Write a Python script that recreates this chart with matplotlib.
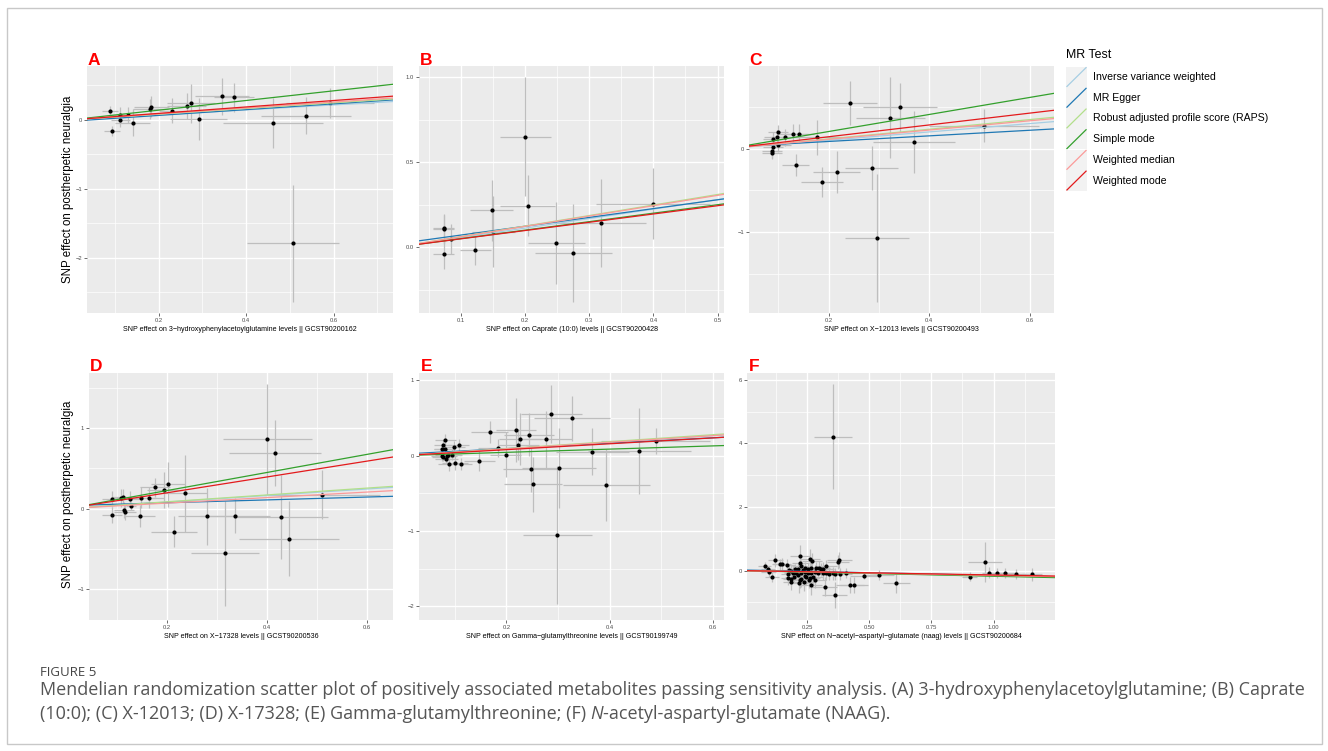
import matplotlib
matplotlib.use("Agg")
import matplotlib.pyplot as plt
from matplotlib.patches import Rectangle

plt.rcParams["font.family"] = ["Liberation Sans", "DejaVu Sans"]

# ---- data ---------------------------------------------------------------
methods = ["Inverse variance weighted", "MR Egger", "Robust adjusted profile score (RAPS)",
           "Simple mode", "Weighted median", "Weighted mode"]
method_colors = ["#a6cee3", "#1f78b4", "#b2df8a", "#33a02c", "#fb9a99", "#e31a1c"]

# Panel A: 3-hydroxyphenylacetoylglutamine
a_x = [0.088, 0.094, 0.111, 0.1125, 0.129, 0.141, 0.181, 0.1825, 0.231, 0.264, 0.273, 0.292,
       0.345, 0.373, 0.462, 0.536, 0.592, 0.508]
a_y = [0.13, -0.165, 0.068, -0.005, 0.068, -0.04, 0.155, 0.19, 0.13, 0.198, 0.24, 0.01,
       0.343, 0.33, -0.043, 0.058, 0.24, -1.79]
a_xe = [0.018, 0.018, 0.02, 0.022, 0.025, 0.04, 0.04, 0.04, 0.03, 0.045, 0.055, 0.065,
        0.062, 0.046, 0.115, 0.103, 0.1, 0.105]
a_ye = [0.07, 0.07, 0.12, 0.1, 0.12, 0.2, 0.15, 0.15, 0.18, 0.19, 0.28, 0.3,
        0.27, 0.21, 0.36, 0.27, 0.22, 0.85]
a_slope = [0.36, 0.42, 0.41, 0.70, 0.43, 0.466]
a_icpt = [0, -0.02, 0, 0, 0, 0]

# Panel B: Caprate (10:0)
b_x = [0.0735, 0.0735, 0.0735, 0.0844, 0.1229, 0.148, 0.151, 0.2008, 0.2044, 0.249, 0.275,
       0.319, 0.399]
b_y = [0.112, 0.106, -0.043, 0.047, -0.018, 0.218, 0.092, 0.651, 0.245, 0.024, -0.035,
       0.141, 0.255]
b_xe = [0.016, 0.016, 0.016, 0.005, 0.024, 0.033, 0.033, 0.039, 0.043, 0.044, 0.06, 0.069, 0.089]
b_ye = [0.086, 0.086, 0.086, 0.09, 0.087, 0.18, 0.21, 0.35, 0.18, 0.24, 0.29, 0.26, 0.21]
b_slope = [0.56, 0.52, 0.62, 0.50, 0.61, 0.488]
b_icpt = [0, 0.019, 0, 0, 0, 0]

# Panel C: X-12013
c_x = [0.0879, 0.0879, 0.0886, 0.0899, 0.0965, 0.0985, 0.0998, 0.1131, 0.1297, 0.1416, 0.1344,
       0.1774, 0.1867, 0.216, 0.2425, 0.2856, 0.2955, 0.3227, 0.342, 0.370, 0.509]
c_y = [-0.048, -0.028, 0.016, 0.116, 0.135, 0.203, 0.044, 0.135, 0.179, 0.179, -0.195,
       0.135, -0.402, -0.279, 0.546, -0.235, -1.072, 0.371, 0.494, 0.080, 0.275]
c_xe = [0.02, 0.02, 0.02, 0.02, 0.025, 0.02, 0.025, 0.03, 0.03, 0.03, 0.027,
        0.05, 0.042, 0.047, 0.053, 0.053, 0.064, 0.069, 0.073, 0.082, 0.11]
c_ye = [0.08, 0.08, 0.08, 0.08, 0.09, 0.08, 0.09, 0.1, 0.11, 0.11, 0.135,
        0.21, 0.18, 0.25, 0.265, 0.26, 0.77, 0.48, 0.295, 0.37, 0.195]
c_slope = [0.498, 0.335, 0.578, 1.02, 0.554, 0.707]
c_icpt = [0, 0.018, 0, 0, 0, 0]

# Panel D: X-17328
d_x = [0.0898, 0.0898, 0.1085, 0.1118, 0.1138, 0.1166, 0.1266, 0.1286, 0.1466, 0.1486, 0.1633,
       0.176, 0.1947, 0.202, 0.236, 0.214, 0.2808, 0.3162, 0.3362, 0.401, 0.4157, 0.4284,
       0.445, 0.511]
d_y = [0.115, -0.074, 0.136, 0.144, -0.02, -0.041, 0.115, 0.037, -0.091, 0.132, 0.136,
       0.264, 0.231, 0.301, 0.19, -0.285, -0.095, -0.553, -0.087, 0.858, 0.689, -0.107,
       -0.371, 0.173]
d_xe = [0.02, 0.02, 0.02, 0.022, 0.02, 0.022, 0.025, 0.01, 0.03, 0.03, 0.03,
        0.03, 0.035, 0.035, 0.045, 0.047, 0.059, 0.069, 0.07, 0.089, 0.092, 0.095, 0.1, 0.116]
d_ye = [0.1, 0.1, 0.11, 0.1, 0.1, 0.1, 0.1, 0.05, 0.14, 0.13, 0.13,
        0.12, 0.22, 0.28, 0.48, 0.19, 0.35, 0.65, 0.22, 0.69, 0.41, 0.52, 0.46, 0.3]
d_slope = [0.404, 0.177, 0.423, 1.118, 0.341, 0.979]
d_icpt = [0, 0.037, 0, 0, 0, 0]

# Panel E: Gamma-glutamylthreonine
e_x = [0.0819, 0.0774, 0.0807, 0.0755, 0.0987, 0.1078, 0.0761, 0.0748, 0.0774, 0.0851, 0.087,
       0.0948, 0.0839, 0.0884, 0.1013, 0.1123, 0.148, 0.1677, 0.1845, 0.199, 0.2187, 0.2232,
       0.2265, 0.2432, 0.2477, 0.251, 0.2768, 0.287, 0.302, 0.2987, 0.327, 0.3665, 0.3935,
       0.4574, 0.489]
e_y = [0.203, 0.137, 0.093, 0.093, 0.115, 0.137, 0.04, -0.009, -0.018, -0.009, 0.004,
       0.013, -0.04, -0.115, -0.093, -0.115, -0.071, 0.313, 0.106, 0.009, 0.34, 0.146,
       0.221, 0.278, -0.181, -0.384, 0.217, 0.552, -0.163, -1.056, 0.495, 0.053, -0.389,
       0.066, 0.194]
e_xe = [0.02, 0.018, 0.02, 0.015, 0.022, 0.02, 0.018, 0.02, 0.022, 0.02, 0.025,
        0.02, 0.022, 0.02, 0.025, 0.022, 0.03, 0.036, 0.04, 0.03, 0.038, 0.04,
        0.04, 0.048, 0.055, 0.056, 0.05, 0.059, 0.072, 0.067, 0.073, 0.07, 0.084, 0.1, 0.105]
e_ye = [0.08, 0.07, 0.06, 0.06, 0.08, 0.08, 0.06, 0.06, 0.06, 0.07, 0.06,
        0.07, 0.07, 0.09, 0.1, 0.08, 0.13, 0.14, 0.12, 0.3, 0.42, 0.2,
        0.35, 0.29, 0.3, 0.36, 0.38, 0.39, 0.53, 0.92, 0.3, 0.31, 0.48, 0.57, 0.17]
e_slope = [0.44, 0.36, 0.462, 0.214, 0.441, 0.391]
e_icpt = [0, 0.02, 0, 0, 0, 0]

# Panel F: N-acetyl-aspartyl-glutamate (naag)
f_x = [0.2205, 0.1227, 0.1400, 0.1490, 0.1680, 0.0796, 0.0930, 0.0957, 0.1090, 0.2620,
       0.2700, 0.3790, 0.3735, 0.3260, 0.2230, 0.2245, 0.2406, 0.2540, 0.2675, 0.2877,
       0.2980, 0.2003, 0.2137, 0.2340, 0.3077, 0.3144, 0.1775, 0.1870, 0.1936, 0.2070,
       0.1735, 0.2273, 0.2406, 0.2540, 0.2675, 0.2810, 0.3144, 0.3280, 0.3372, 0.3547,
       0.1735, 0.1842, 0.1976, 0.2137, 0.2474, 0.2567, 0.2740, 0.2810, 0.2245, 0.2380,
       0.2177, 0.2205, 0.2648, 0.3211, 0.3614, 0.3815, 0.4083, 0.4808, 0.4232, 0.4391,
       0.3614, 0.1870, 0.2607, 0.2943, 0.2406, 0.5400, 0.6080, 0.3547, 0.9050, 0.9665,
       0.9826, 1.0148, 1.0457, 1.0886, 1.1557]
f_y = [0.470, 0.325, 0.200, 0.210, 0.170, 0.156, 0.040, -0.053, -0.200, 0.366,
       0.300, 0.334, 0.270, 0.146, 0.250, 0.146, 0.073, 0.042, 0.094, 0.073,
       0.094, 0.042, 0.042, 0.021, 0.042, 0.062, 0.031, 0.000, -0.062, -0.084,
       -0.115, -0.084, -0.031, -0.084, -0.062, -0.031, -0.084, -0.084, -0.094, -0.084,
       -0.240, -0.270, -0.190, -0.136, -0.210, -0.290, -0.210, -0.290, -0.270, -0.345,
       -0.397, -0.290, -0.450, -0.500, -0.105, -0.105, -0.073, -0.157, -0.450, -0.450,
       -0.763, -0.345, -0.220, -0.062, -0.167, -0.136, -0.390, 4.210, -0.190, 0.270,
       -0.060, -0.070, -0.070, -0.110, -0.110]
f_xe = [0.04, 0.03, 0.03, 0.035, 0.035, 0.025, 0.03, 0.03, 0.03, 0.04,
        0.04, 0.05, 0.045, 0.045, 0.035, 0.035, 0.04, 0.04, 0.04, 0.045,
        0.045, 0.03, 0.035, 0.035, 0.045, 0.045, 0.03, 0.03, 0.035, 0.035,
        0.03, 0.035, 0.035, 0.04, 0.04, 0.045, 0.045, 0.045, 0.05, 0.05,
        0.03, 0.03, 0.035, 0.035, 0.04, 0.04, 0.04, 0.045, 0.035, 0.04,
        0.035, 0.035, 0.045, 0.05, 0.05, 0.05, 0.055, 0.06, 0.055, 0.055,
        0.05, 0.035, 0.04, 0.045, 0.04, 0.06, 0.054, 0.077, 0.03, 0.069,
        0.03, 0.035, 0.035, 0.04, 0.04]
f_ye = [0.35, 0.2, 0.18, 0.18, 0.2, 0.12, 0.12, 0.15, 0.15, 0.3,
        0.25, 0.25, 0.22, 0.2, 0.25, 0.2, 0.2, 0.2, 0.2, 0.2,
        0.2, 0.18, 0.18, 0.2, 0.2, 0.2, 0.18, 0.18, 0.2, 0.2,
        0.2, 0.22, 0.2, 0.22, 0.22, 0.2, 0.22, 0.22, 0.2, 0.2,
        0.22, 0.22, 0.2, 0.2, 0.25, 0.25, 0.25, 0.25, 0.25, 0.3,
        0.3, 0.25, 0.3, 0.3, 0.2, 0.2, 0.15, 0.12, 0.25, 0.25,
        0.4, 0.25, 0.25, 0.2, 0.2, 0.15, 0.32, 1.65, 0.15, 0.64,
        0.18, 0.15, 0.15, 0.15, 0.2]
f_slope = [-0.15, -0.17, -0.16, -0.175, -0.15, -0.135]
f_icpt = [0, 0.02, 0, 0, 0, 0]

x_labels = [
    "SNP effect on 3\u2212hydroxyphenylacetoylglutamine levels || GCST90200162",
    "SNP effect on Caprate (10:0) levels || GCST90200428",
    "SNP effect on X\u221212013 levels || GCST90200493",
    "SNP effect on X\u221217328 levels || GCST90200536",
    "SNP effect on Gamma\u2212glutamylthreonine levels || GCST90199749",
    "SNP effect on N\u2212acetyl\u2212aspartyl\u2212glutamate (naag) levels || GCST90200684",
]
panel_letters = ["A", "B", "C", "D", "E", "F"]
y_title = "SNP effect on postherpetic neuralgia"

a_xt, a_xtl, a_yt, a_ytl = [0.2, 0.4, 0.6], ["0.2", "0.4", "0.6"], [-2, -1, 0], ["\u22122", "\u22121", "0"]
b_xt, b_xtl = [0.1, 0.2, 0.3, 0.4, 0.5], ["0.1", "0.2", "0.3", "0.4", "0.5"]
b_yt, b_ytl = [0.0, 0.5, 1.0], ["0.0", "0.5", "1.0"]
c_xt, c_xtl, c_yt, c_ytl = [0.2, 0.4, 0.6], ["0.2", "0.4", "0.6"], [-1, 0], ["\u22121", "0"]
d_xt, d_xtl, d_yt, d_ytl = [0.2, 0.4, 0.6], ["0.2", "0.4", "0.6"], [-1, 0, 1], ["\u22121", "0", "1"]
e_xt, e_xtl = [0.2, 0.4, 0.6], ["0.2", "0.4", "0.6"]
e_yt, e_ytl = [-2, -1, 0, 1], ["\u22122", "\u22121", "0", "1"]
f_xt, f_xtl = [0.25, 0.5, 0.75, 1.0], ["0.25", "0.50", "0.75", "1.00"]
f_yt, f_ytl = [0, 2, 4, 6], ["0", "2", "4", "6"]

caption_head = "FIGURE 5"
caption_1 = ("Mendelian randomization scatter plot of positively associated metabolites passing "
             "sensitivity analysis. (A) 3-hydroxyphenylacetoylglutamine; (B) Caprate")
caption_2a = "(10:0); (C) X-12013; (D) X-17328; (E) Gamma-glutamylthreonine; (F) "
caption_2b = "N"
caption_2c = "-acetyl-aspartyl-glutamate (NAAG)."

# ---- figure ---------------------------------------------------------------
W, H = 1328, 751
fig = plt.figure(figsize=(W / 100, H / 100), dpi=100)
fig.patch.set_facecolor("white")


def px_axes(l, t, r, b):
    return fig.add_axes([l / W, 1 - b / H, (r - l) / W, (b - t) / H])


def draw_panel(ax, x, y, xe, ye, slopes, icpts, xlim, ylim, xt, xtl, xmin, yt, ytl, ymin, xlabel):
    ax.set_facecolor("#EBEBEB")
    for s in ax.spines.values():
        s.set_visible(False)
    ax.set_xlim(*xlim)
    ax.set_ylim(*ylim)
    ax.set_xticks(xt)
    ax.set_xticklabels(xtl)
    ax.set_xticks(xmin, minor=True)
    ax.set_yticks(yt)
    ax.set_yticklabels(ytl)
    ax.set_yticks(ymin, minor=True)
    ax.set_axisbelow(True)
    ax.grid(which="major", color="white", lw=1.0)
    ax.grid(which="minor", color="white", lw=0.5)
    ax.tick_params(which="major", length=2, width=0.5, color="#333333",
                   labelsize=4.2, labelcolor="#4D4D4D", pad=1.5)
    ax.tick_params(which="minor", length=0)
    ax.errorbar(x, y, xerr=xe, yerr=ye, fmt="none", ecolor="#BEBEBE",
                elinewidth=0.9, capsize=0, zorder=2)
    ax.scatter(x, y, s=9, color="black", linewidths=0, zorder=3)
    for sl, ic, col in zip(slopes, icpts, method_colors):
        ax.axline((0, ic), slope=sl, color=col, lw=0.9, zorder=4)
    ax.set_xlabel(xlabel, fontsize=5.1, labelpad=2, color="black")


axA = px_axes(87, 66, 393, 313)
draw_panel(axA, a_x, a_y, a_xe, a_ye, a_slope, a_icpt, (0.036, 0.736), (-2.80, 0.78),
           a_xt, a_xtl, [0.1, 0.3, 0.5, 0.7], a_yt, a_ytl, [-2.5, -1.5, -0.5, 0.5], x_labels[0])
axB = px_axes(419, 66, 724, 313)
draw_panel(axB, b_x, b_y, b_xe, b_ye, b_slope, b_icpt, (0.035, 0.510), (-0.388, 1.067),
           b_xt, b_xtl, [0.05, 0.15, 0.25, 0.35, 0.45], b_yt, b_ytl, [-0.25, 0.25, 0.75], x_labels[1])
axC = px_axes(749, 66, 1054, 313)
draw_panel(axC, c_x, c_y, c_xe, c_ye, c_slope, c_icpt, (0.0415, 0.648), (-1.968, 0.988),
           c_xt, c_xtl, [0.1, 0.3, 0.5], c_yt, c_ytl, [-1.5, -0.5, 0.5], x_labels[2])
axD = px_axes(89, 373, 393, 620)
draw_panel(axD, d_x, d_y, d_xe, d_ye, d_slope, d_icpt, (0.0437, 0.653), (-1.38, 1.68),
           d_xt, d_xtl, [0.1, 0.3, 0.5], d_yt, d_ytl, [-0.5, 0.5, 1.5], x_labels[3])
axE = px_axes(419, 373, 724, 620)
draw_panel(axE, e_x, e_y, e_xe, e_ye, e_slope, e_icpt, (0.031, 0.621), (-2.183, 1.096),
           e_xt, e_xtl, [0.1, 0.3, 0.5], e_yt, e_ytl, [-1.5, -0.5, 0.5], x_labels[4])
axF = px_axes(747, 373, 1055, 620)
draw_panel(axF, f_x, f_y, f_xe, f_ye, f_slope, f_icpt, (0.0085, 1.247), (-1.55, 6.21),
           f_xt, f_xtl, [0.125, 0.375, 0.625, 0.875, 1.125], f_yt, f_ytl, [-1, 1, 3, 5], x_labels[5])

# panel letters
for letter, (lx, ly) in zip(panel_letters, [(88, 65), (420, 65), (749, 65),
                                            (90, 371), (421, 371), (749, 371)]):
    fig.text(lx / W, 1 - ly / H, letter, color="#FF0000", fontsize=12.5,
             fontweight="bold", ha="left", va="baseline")

# shared y titles
for cy in (189.5, 494):
    fig.text(68 / W, 1 - cy / H, y_title, rotation=90, ha="center", va="center",
             fontsize=8.3, color="black")

# legend (ggplot style with diagonal keys)
lax = fig.add_axes([1060 / W, 1 - 200 / H, 230 / W, 160 / H])
lax.set_xlim(1060, 1290)
lax.set_ylim(200, 40)
lax.axis("off")
lax.text(1066, 55, "MR Test", fontsize=8.9, ha="left", va="center")
key_h = 20.7
for i, (name, col) in enumerate(zip(methods, method_colors)):
    top = 66.7 + i * key_h
    lax.add_patch(Rectangle((1066, top), 21, key_h, facecolor="#F2F2F2", edgecolor="none"))
    lax.plot([1066.5, 1086.5], [top + key_h - 0.5, top + 0.5], color=col, lw=0.9,
             solid_capstyle="butt")
    lax.text(1093, top + key_h / 2, name, fontsize=7.6, ha="left", va="center")

# caption
cap_font = ["Open Sans", "DejaVu Sans"]
cap_size = 13.0
fig.text(40 / W, 1 - 672 / H, caption_head, fontsize=9.5, color="#444444",
         family=cap_font, ha="left", va="center")
fig.text(40 / W, 1 - 690 / H, caption_1, fontsize=cap_size, color="#555555",
         family=cap_font, ha="left", va="center")
t2a = fig.text(40 / W, 1 - 714 / H, caption_2a, fontsize=cap_size, color="#555555",
               family=cap_font, ha="left", va="center")
renderer = fig.canvas.get_renderer()
x_end = t2a.get_window_extent(renderer).x1
t2b = fig.text(x_end / W, 1 - 714 / H, caption_2b, fontsize=cap_size, color="#555555",
               family=cap_font, style="italic", ha="left", va="center")
x_end = t2b.get_window_extent(renderer).x1
fig.text(x_end / W, 1 - 714 / H, caption_2c, fontsize=cap_size, color="#555555",
         family=cap_font, ha="left", va="center")

# outer frame
fig.add_artist(Rectangle((7 / W, 1 - 744 / H), 1315 / W, 736 / H, transform=fig.transFigure,
                         fill=False, edgecolor="#C8C8C8", lw=1))

fig.savefig("out.png", dpi=100)
